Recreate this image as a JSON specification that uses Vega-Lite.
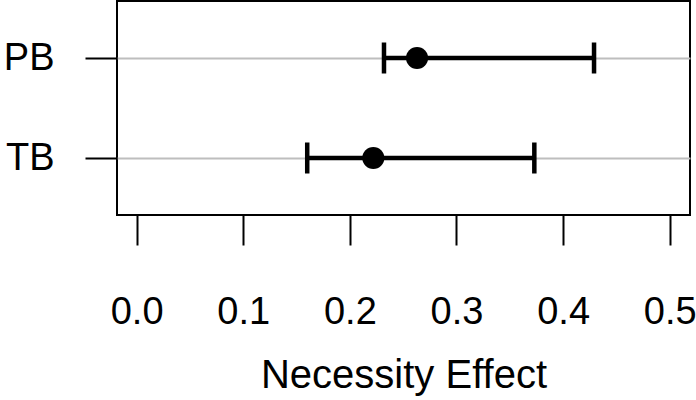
{
  "$schema": "https://vega.github.io/schema/vega-lite/v6.json",
  "autosize": {"type": "none"},
  "padding": {"left": 117, "top": 1, "right": 6, "bottom": 185},
  "width": 573,
  "height": 214,
  "config": {
    "font": "Liberation Sans",
    "view": {"stroke": "black", "strokeWidth": 2},
    "axis": {"labelColor": "black", "titleColor": "black", "tickColor": "black", "labelFont": "Liberation Sans", "titleFont": "Liberation Sans"}
  },
  "data": {
    "values": [
      {"group": "PB", "est": 0.263, "lo": 0.232, "hi": 0.429},
      {"group": "TB", "est": 0.222, "lo": 0.160, "hi": 0.373}
    ]
  },
  "encoding": {
    "y": {
      "field": "group", "type": "ordinal",
      "scale": {"type": "point", "domain": ["PB", "TB"], "padding": 0.57},
      "axis": {"title": null, "domain": false, "grid": true, "gridColor": "#bebebe", "gridWidth": 2, "tickSize": 32, "tickWidth": 2, "labelFontSize": 38, "labelPadding": 31, "labelBaseline": "middle"}
    }
  },
  "layer": [
    {
      "mark": {"type": "rule", "color": "black", "strokeWidth": 4.5},
      "encoding": {
        "x": {
          "field": "lo", "type": "quantitative",
          "scale": {"domain": [-0.0184, 0.519], "nice": false, "zero": false},
          "axis": {"title": "Necessity Effect", "values": [0, 0.1, 0.2, 0.3, 0.4, 0.5], "format": ".1f", "grid": false, "domain": false, "tickSize": 30, "tickWidth": 2, "labelFontSize": 38, "labelPadding": 48, "labelFlush": false, "titleFontSize": 40, "titleFontWeight": "normal", "titlePadding": 24}
        },
        "x2": {"field": "hi"}
      }
    },
    {
      "mark": {"type": "tick", "color": "black", "opacity": 1, "thickness": 4.5, "size": 31, "orient": "vertical"},
      "encoding": {"x": {"field": "lo", "type": "quantitative"}}
    },
    {
      "mark": {"type": "tick", "color": "black", "opacity": 1, "thickness": 4.5, "size": 31, "orient": "vertical"},
      "encoding": {"x": {"field": "hi", "type": "quantitative"}}
    },
    {
      "mark": {"type": "circle", "color": "black", "opacity": 1, "size": 490},
      "encoding": {"x": {"field": "est", "type": "quantitative"}}
    }
  ]
}
